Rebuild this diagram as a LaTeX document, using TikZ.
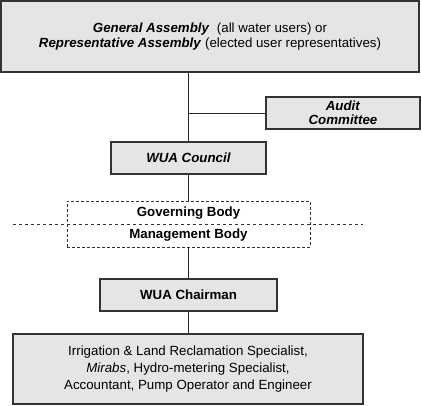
\documentclass[tikz,border=0pt]{standalone}
\usepackage{fontspec}
\setmainfont{Liberation Sans}
\begin{document}
\begin{tikzpicture}[x=1pt,y=-1pt,
  box/.style={draw=black!80, line width=1.2pt, fill=black!10, align=center, inner sep=0pt, font=\fontsize{13.3}{15}\selectfont},
  link/.style={draw=black!85, line width=1pt}]
\useasboundingbox (0,0) rectangle (422,405);
\node[box, minimum width=418pt, minimum height=71pt] (ga) at (210,36.5)
  {\textbf{\textit{General Assembly}}\ \ (all water users) or\\ \textbf{\textit{Representative Assembly}} (elected user representatives)};
\node[box, minimum width=154pt, minimum height=32pt, font=\fontsize{13.3}{13.8}\selectfont] (audit) at (343,113) {\textbf{\textit{Audit}}\\\textbf{\textit{Committee}}};
\node[box, minimum width=155pt, minimum height=32pt] (council) at (188.5,158) {\textbf{\textit{WUA Council}}};
\node[draw=black!80, densely dashed, line width=0.8pt, minimum width=243pt, minimum height=46pt, inner sep=0pt] (gov) at (188.5,224) {};
\node[font=\fontsize{13.3}{15}\selectfont\bfseries] (govt) at (188.5,213.3) {Governing Body};
\node[font=\fontsize{13.3}{15}\selectfont\bfseries] (mant) at (188.5,235.3) {Management Body};
\coordinate (dl) at (13,224);
\coordinate (dr) at (363,224);
\draw[black!80, dashed, line width=0.8pt] (dl) -- (dr);
\node[box, minimum width=177pt, minimum height=32pt] (chair) at (188.5,295) {\textbf{WUA Chairman}};
\node[box, minimum width=350pt, minimum height=70pt, font=\fontsize{13.3}{17}\selectfont] (staff) at (188,369)
  {Irrigation \& Land Reclamation Specialist,\\ \textit{Mirabs}, Hydro-metering Specialist,\\ Accountant, Pump Operator and Engineer};
\coordinate (j) at (188.5,113);
\draw[link] (ga.south -| council) -- (council.north);
\draw[link] (j) -- (audit.west);
\draw[link] (council.south) -- (gov.north);
\draw[link] (gov.south) -- (chair.north);
\draw[link] (chair.south) -- (staff.north -| chair);
\end{tikzpicture}
\end{document}
